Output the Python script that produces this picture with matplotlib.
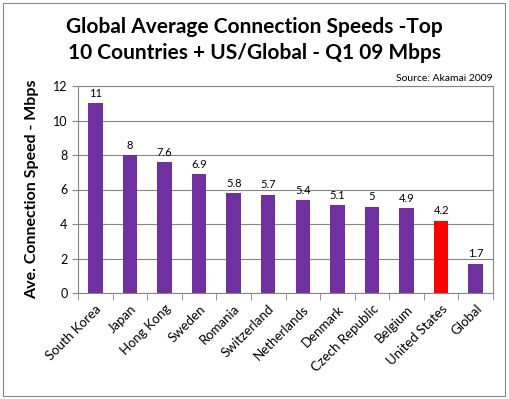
import matplotlib
matplotlib.use("Agg")
import matplotlib.pyplot as plt
from matplotlib.patches import Rectangle

countries = ["South Korea", "Japan", "Hong Kong", "Sweden", "Romania",
             "Switzerland", "Netherlands", "Denmark", "Czech Republic",
             "Belgium", "United States", "Global"]
speeds = [11, 8, 7.6, 6.9, 5.8, 5.7, 5.4, 5.1, 5, 4.9, 4.2, 1.7]
value_labels = ["11", "8", "7.6", "6.9", "5.8", "5.7", "5.4", "5.1", "5", "4.9", "4.2", "1.7"]
bar_colors = ["#7030A0"] * 10 + ["#FF0000", "#7030A0"]
y_ticks = [0, 2, 4, 6, 8, 10, 12]

plt.rcParams["font.family"] = ["Lato", "DejaVu Sans"]

fig = plt.figure(figsize=(5.09, 3.99), dpi=100)
ax = fig.add_axes([78 / 509, 1 - 293 / 399, 415 / 509, 207 / 399])

x = list(range(len(countries)))
ax.bar(x, speeds, width=0.42, color=bar_colors, zorder=3)
for xi, v, lab in zip(x, speeds, value_labels):
    ax.text(xi, v + 0.25, lab, ha="center", va="bottom", fontsize=8, color="black")

ax.set_xlim(-0.5, len(countries) - 0.5)
ax.set_ylim(0, 12)
ax.set_yticks(y_ticks)
ax.set_yticklabels([str(t) for t in y_ticks], fontsize=9)
ax.grid(axis="y", color="#868686", linewidth=0.8, zorder=0)
ax.set_xticks(x)
ax.set_xticklabels(countries, rotation=45, ha="right", rotation_mode="anchor", fontsize=9.5)
ax.tick_params(axis="x", length=0, pad=7)
ax.set_xticks([i - 0.5 for i in range(len(countries) + 1)], minor=True)
ax.tick_params(axis="x", which="minor", length=5, color="#868686")
ax.tick_params(axis="y", length=4, color="#868686")
for s in ax.spines.values():
    s.set_color("#868686")
    s.set_linewidth(0.8)

ax.set_ylabel("Ave. Connection Speed - Mbps", fontsize=11.5, fontweight="bold", labelpad=10)

fig.text(0.5, 1 - 17 / 399, "Global Average Connection Speeds -Top\n10 Countries + US/Global - Q1 09 Mbps",
         ha="center", va="top", fontsize=15, fontweight="bold", linespacing=1.35)
fig.text(493 / 509, 1 - 83 / 399, "Source: Akamai 2009", ha="right", va="bottom", fontsize=7.5)

fig.patches.append(Rectangle((3 / 509, 3 / 399), 502 / 509, 393 / 399, transform=fig.transFigure,
                             fill=False, edgecolor="#868686", linewidth=0.8))

fig.savefig("out.png", dpi=100)
